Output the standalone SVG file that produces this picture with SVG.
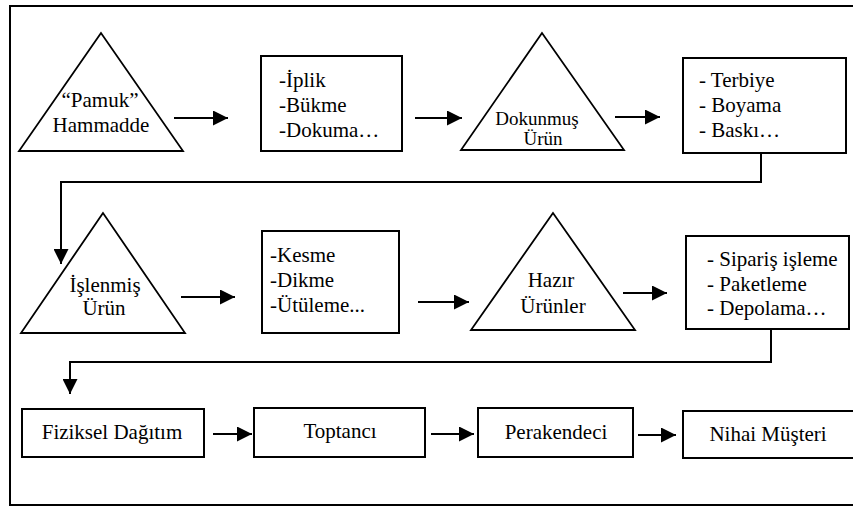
<svg xmlns="http://www.w3.org/2000/svg" width="853" height="507" viewBox="0 0 853 507" font-family="Liberation Serif, Times New Roman, DejaVu Serif, serif">
<style>
.shape{fill:#fff;stroke:#000;stroke-width:2}
.tri{fill:#fff;stroke:#000;stroke-width:1.8;stroke-linejoin:miter}
.t{font-size:21px;fill:#000}
.c{text-anchor:middle}
.conn{fill:none;stroke:#000;stroke-width:2}
</style>
<defs>
<marker id="ah" markerUnits="userSpaceOnUse" markerWidth="16" markerHeight="15" refX="15" refY="7.5" orient="auto">
<path d="M0,0 L15,7.5 L0,15 z" fill="#000"/>
</marker>
</defs>
<rect width="853" height="507" fill="#fff"/>
<path d="M853,6 H10 V505 H853" fill="none" stroke="#000" stroke-width="2"/>

<g id="n-pamuk">
<polygon class="tri" points="101,33 19,151 183,151"/>
<text class="t c" x="100" y="107">“Pamuk”</text>
<text class="t c" x="101" y="132">Hammadde</text>
</g>
<g id="n-iplik">
<rect class="shape" x="261" y="56" width="141" height="95"/>
<text class="t" x="279" y="87">-İplik</text>
<text class="t" x="279" y="112">-Bükme</text>
<text class="t" x="279" y="137">-Dokuma…</text>
</g>
<g id="n-dokunmus">
<polygon class="tri" points="542,33 461,150 624,150"/>
<text class="t c" x="537" y="125" font-size="19" style="font-size:19px">Dokunmuş</text>
<text class="t c" x="543" y="145" font-size="19" style="font-size:19px">Ürün</text>
</g>
<g id="n-terbiye">
<rect class="shape" x="683" y="58" width="163" height="95"/>
<text class="t" x="699" y="87">- Terbiye</text>
<text class="t" x="699" y="112">- Boyama</text>
<text class="t" x="699" y="137">- Baskı…</text>
</g>
<g id="n-islenmis">
<polygon class="tri" points="103,213 21,333 185,333"/>
<text class="t c" x="105" y="292">İşlenmiş</text>
<text class="t c" x="104" y="315">Ürün</text>
</g>
<g id="n-kesme">
<rect class="shape" x="262" y="231" width="137" height="102"/>
<text class="t" x="270" y="262">-Kesme</text>
<text class="t" x="270" y="287">-Dikme</text>
<text class="t" x="270" y="312">-Ütüleme...</text>
</g>
<g id="n-hazir">
<polygon class="tri" points="553,213 471,330 635,330"/>
<text class="t c" x="551" y="287">Hazır</text>
<text class="t c" x="553" y="313">Ürünler</text>
</g>
<g id="n-siparis">
<rect class="shape" x="686" y="236" width="163" height="93"/>
<text class="t" x="707" y="266">- Sipariş işleme</text>
<text class="t" x="707" y="291">- Paketleme</text>
<text class="t" x="707" y="315">- Depolama…</text>
</g>
<g id="n-fiziksel">
<rect class="shape" x="22" y="409" width="182" height="48"/>
<text class="t c" x="112" y="439">Fiziksel Dağıtım</text>
</g>
<g id="n-toptanci">
<rect class="shape" x="254" y="408" width="171" height="49"/>
<text class="t c" x="340" y="438">Toptancı</text>
</g>
<g id="n-perakendeci">
<rect class="shape" x="478" y="408" width="155" height="49"/>
<text class="t c" x="556" y="439">Perakendeci</text>
</g>
<g id="n-nihai">
<rect class="shape" x="683" y="411" width="190" height="47"/>
<text class="t c" x="768" y="441">Nihai Müşteri</text>
</g>

<g id="connectors">
<line class="conn" x1="174" y1="118" x2="228" y2="118" marker-end="url(#ah)"/>
<line class="conn" x1="415" y1="118" x2="462" y2="118" marker-end="url(#ah)"/>
<line class="conn" x1="615" y1="117" x2="660" y2="117" marker-end="url(#ah)"/>
<polyline class="conn" points="761,153 761,182 61,182 61,264" marker-end="url(#ah)"/>
<line class="conn" x1="181" y1="297" x2="235" y2="297" marker-end="url(#ah)"/>
<line class="conn" x1="418" y1="302" x2="469" y2="302" marker-end="url(#ah)"/>
<line class="conn" x1="623" y1="293" x2="667" y2="293" marker-end="url(#ah)"/>
<polyline class="conn" points="771,329 771,362 70,362 70,394" marker-end="url(#ah)"/>
<line class="conn" x1="213" y1="434" x2="252" y2="434" marker-end="url(#ah)"/>
<line class="conn" x1="431" y1="434" x2="474" y2="434" marker-end="url(#ah)"/>
<line class="conn" x1="638" y1="435" x2="676" y2="435" marker-end="url(#ah)"/>
</g>
</svg>
